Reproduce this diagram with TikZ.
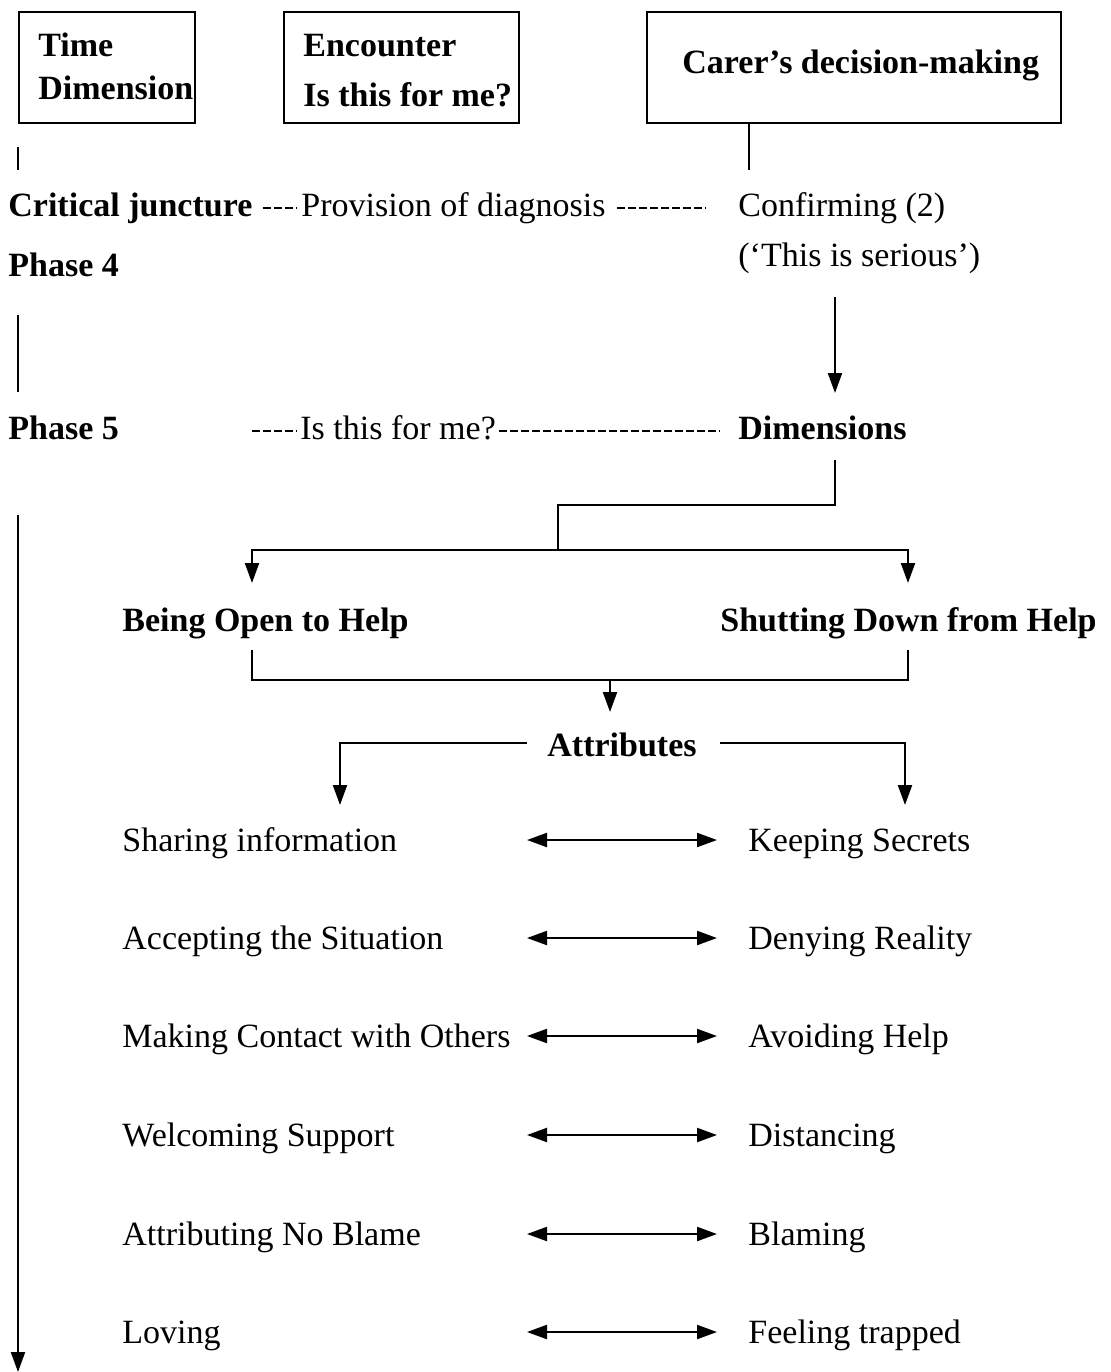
\documentclass[tikz,border=0pt]{standalone}
\usepackage{fontspec}
\setmainfont{Liberation Serif}
\usetikzlibrary{arrows.meta,calc}
\begin{document}
\begin{tikzpicture}[x=0.5pt,y=-0.5pt,
  txt/.style={anchor=base west,inner sep=0pt,font=\fontsize{17}{20}\selectfont},
  btxt/.style={anchor=base west,inner sep=0pt,font=\fontsize{17}{20}\selectfont\bfseries},
  frame/.style={draw,line width=1.1pt,anchor=north west,inner sep=0pt,minimum height=55.5pt},
  conn/.style={line width=1.1pt},
  hyph/.style={line width=1pt,dash pattern=on 4pt off 1.5pt},
  arr/.style={conn,-{Triangle[length=10pt,width=7pt]}},
  darr/.style={conn,{Triangle[length=10pt,width=7pt]}-{Triangle[length=10pt,width=7pt]}},
]
\useasboundingbox (0,0) rectangle (1110,1372);

% header boxes
\node[frame,minimum width=88pt] (tbox) at (18,11) {};
\node[frame,minimum width=117.5pt] (ebox) at (283,11) {};
\node[frame,minimum width=207pt] (cbox) at (646,11) {};
\node[btxt] (t1) at (38,56) {Time};
\node[btxt] (t2) at (38,99) {Dimension};
\node[btxt] (e1) at (303,56) {Encounter};
\node[btxt] (e2) at (303,106) {Is this for me?};
\node[btxt] (c1) at (682,73) {Carer’s decision-making};

% phase 4
\node[btxt] (crit) at (8,216) {Critical juncture};
\node[txt] (prov) at (301,216) {Provision of diagnosis};
\node[txt] (conf) at (738,216) {Confirming (2)};
\node[btxt] (ph4) at (8,276) {Phase 4};
\node[txt] (serious) at (738,266) {(‘This is serious’)};

% phase 5
\node[btxt] (ph5) at (8,439) {Phase 5};
\node[txt] (isme) at (300,439) {Is this for me?};
\node[btxt] (dims) at (738,439) {Dimensions};

% dimensions
\node[btxt] (open) at (122,631) {Being Open to Help};
\node[btxt] (shut) at (720,631) {Shutting Down from Help};
\node[btxt] (attr) at (547,756) {Attributes};

% attribute pairs
\node[txt] (l1) at (122,851) {Sharing information};
\node[txt] (r1) at (748,851) {Keeping Secrets};
\node[txt] (l2) at (122,949) {Accepting the Situation};
\node[txt] (r2) at (748,949) {Denying Reality};
\node[txt] (l3) at (122,1047) {Making Contact with Others};
\node[txt] (r3) at (748,1047) {Avoiding Help};
\node[txt] (l4) at (122,1146) {Welcoming Support};
\node[txt] (r4) at (748,1146) {Distancing};
\node[txt] (l5) at (122,1245) {Attributing No Blame};
\node[txt] (r5) at (748,1245) {Blaming};
\node[txt] (l6) at (122,1343) {Loving};
\node[txt] (r6) at (748,1343) {Feeling trapped};

% time axis
\draw[conn] ($(tbox.south west)+(0,23)$) -- ($(crit.base west)+(10,-46)$);
\draw[conn] ($(ph4.base west)+(10,39)$) -- ($(ph5.base west)+(10,-47)$);
\draw[arr] ($(ph5.base west)+(10,76)$) -- ++(0,857);

% carer's column
\coordinate (cl) at ($(conf.base west)+(11,-46)$);
\draw[conn] (cl |- cbox.south) -- (cl);
\draw[arr] ($(serious.base west)+(97,31)$) -- ($(dims.base west)+(97,-46)$);

% dashed links
\draw[hyph] ($(crit.base east)+(10,-8)$) -- ($(prov.base west)+(-4,-8)$);
\draw[hyph] ($(prov.base east)+(11,-8)$) -- ($(conf.base west)+(-32,-8)$);
\draw[hyph] ($(isme.base west)+(-48,-8)$) -- ($(isme.base west)+(-3,-8)$);
\draw[hyph] ($(isme.base east)+(3,-8)$) -- ($(dims.base west)+(-18,-8)$);

% dimensions split
\coordinate (split) at (558,550);
\draw[conn] ($(dims.base west)+(97,21)$) -- ++(0,45) -| (split);
\draw[arr] (split) -| ($(open.base west)+(130,-48)$);
\draw[arr] (split) -| ($(shut.base west)+(188,-48)$);

% merge into attributes
\draw[conn] ($(open.base west)+(130,19)$) |- ($(shut.base west)+(188,49)$) -- ++(0,-30);
\draw[arr] ($(attr.base west)+(63,-76)$) -- ++(0,32);
\draw[arr] ($(attr.base west)+(-20,-13)$) -| ($(l1.base west)+(218,-46)$);
\draw[arr] ($(attr.base east)+(23,-13)$) -| ($(r1.base west)+(157,-46)$);

% opposing pairs
\coordinate (ax) at (527,0);
\coordinate (bx) at (717,0);
\foreach \i in {1,...,6}{
  \draw[darr] ($(l\i.base -| ax)+(0,-11)$) -- ($(r\i.base -| bx)+(0,-11)$);
}
\end{tikzpicture}
\end{document}
